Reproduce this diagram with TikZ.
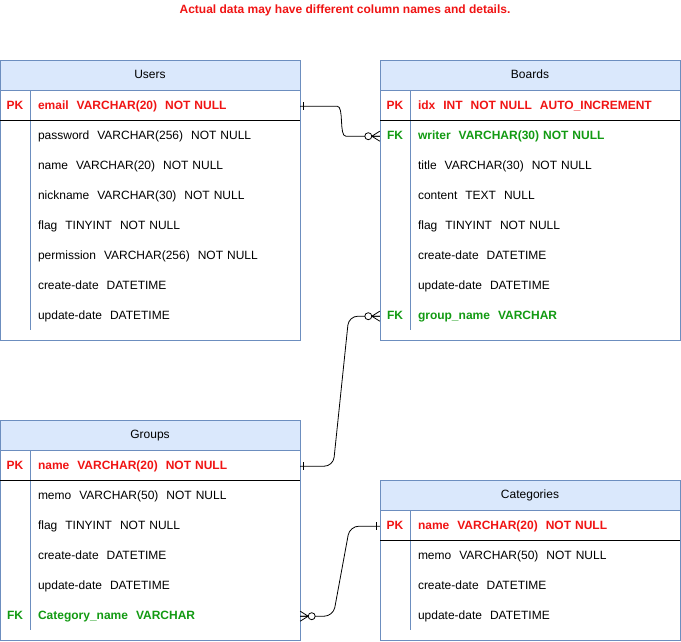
\documentclass[tikz,border=0pt]{standalone}
\usepackage{fontspec}
\setmainfont{Liberation Sans}

\definecolor{headblue}{HTML}{DAE8FC}
\definecolor{edgeblue}{HTML}{6C8EBF}
\definecolor{pkred}{HTML}{F01414}
\definecolor{fkgreen}{HTML}{129A12}

\tikzset{
  tbl/.style={draw=edgeblue, line width=0.8pt},
  head/.style={font=\fontsize{12}{14}\selectfont, text height=9pt, text depth=3pt},
  row/.style={text width=254pt, inner xsep=8pt, inner ysep=0pt, minimum height=30pt,
    text height=9pt, text depth=3pt, yshift=-1.2pt, font=\fontsize{12}{14}\selectfont},
  pkrow/.style={row, text=pkred, font=\fontsize{12}{14}\selectfont\bfseries},
  fkrow/.style={row, text=fkgreen, font=\fontsize{12}{14}\selectfont\bfseries},
  keytag/.style={minimum width=30pt, minimum height=30pt, inner sep=0pt,
    text height=9pt, text depth=3pt, yshift=-1.2pt, font=\fontsize{12}{14}\selectfont\bfseries},
  rel/.style={line width=0.8pt, rounded corners=9pt},
  one/.pic={\draw[line width=0.8pt] (0,-4) -- (0,4);},
  zeromany/.pic={
    \draw[line width=0.8pt] (-8,0) -- (0,-5) (-8,0) -- (0,5) (-8,0) -- (0,0);
    \draw[line width=0.8pt, fill=white] (-11.5,0) circle (3.5pt);}
}

\begin{document}
\begin{tikzpicture}[x=1pt, y=-1pt]
\useasboundingbox (0,0) rectangle (681,641);

\node[font=\fontsize{12}{14}\selectfont\bfseries, text=pkred] (note) at (345,10)
  {Actual data may have different column names and details.};

% Users
\draw[tbl, fill=headblue] (0,60) rectangle (300,90);
\draw[tbl] (0,90) rectangle (300,340);
\draw[edgeblue, line width=0.8pt] (30,90) -- (30,330);
\draw[line width=0.8pt] (0,120) -- (300,120);
\node[head] (users) at (150,75) {Users};
\node[keytag, text=pkred] (users-pk) at (15,105) {PK};
\node[pkrow] (users-email) at (165,105) {email~~VARCHAR(20)~~NOT NULL};
\node[row] (users-pw) at (165,135) {password~~VARCHAR(256)~~NOT NULL};
\node[row] (users-name) at (165,165) {name~~VARCHAR(20)~~NOT NULL};
\node[row] (users-nick) at (165,195) {nickname~~VARCHAR(30)~~NOT NULL};
\node[row] (users-flag) at (165,225) {flag~~TINYINT~~NOT NULL};
\node[row] (users-perm) at (165,255) {permission~~VARCHAR(256)~~NOT NULL};
\node[row] (users-cdate) at (165,285) {create-date~~DATETIME};
\node[row] (users-udate) at (165,315) {update-date~~DATETIME};

% Boards
\draw[tbl, fill=headblue] (380,60) rectangle (680,90);
\draw[tbl] (380,90) rectangle (680,340);
\draw[edgeblue, line width=0.8pt] (410,90) -- (410,330);
\draw[line width=0.8pt] (380,120) -- (680,120);
\node[head] (boards) at (530,75) {Boards};
\node[keytag, text=pkred] (boards-pk) at (395,105) {PK};
\node[keytag, text=fkgreen] (boards-fk1) at (395,135) {FK};
\node[keytag, text=fkgreen] (boards-fk2) at (395,315) {FK};
\node[pkrow] (boards-idx) at (545,105) {idx~~INT~~NOT NULL~~AUTO\_INCREMENT};
\node[fkrow] (boards-writer) at (545,135) {writer~~VARCHAR(30) NOT NULL};
\node[row] (boards-title) at (545,165) {title~~VARCHAR(30)~~NOT NULL};
\node[row] (boards-content) at (545,195) {content~~TEXT~~NULL};
\node[row] (boards-flag) at (545,225) {flag~~TINYINT~~NOT NULL};
\node[row] (boards-cdate) at (545,255) {create-date~~DATETIME};
\node[row] (boards-udate) at (545,285) {update-date~~DATETIME};
\node[fkrow] (boards-group) at (545,315) {group\_name~~VARCHAR};

% Groups
\draw[tbl, fill=headblue] (0,420) rectangle (300,450);
\draw[tbl] (0,450) rectangle (300,640);
\draw[edgeblue, line width=0.8pt] (30,450) -- (30,630);
\draw[line width=0.8pt] (0,480) -- (300,480);
\node[head] (groups) at (150,435) {Groups};
\node[keytag, text=pkred] (groups-pk) at (15,465) {PK};
\node[keytag, text=fkgreen] (groups-fk) at (15,615) {FK};
\node[pkrow] (groups-name) at (165,465) {name~~VARCHAR(20)~~NOT NULL};
\node[row] (groups-memo) at (165,495) {memo~~VARCHAR(50)~~NOT NULL};
\node[row] (groups-flag) at (165,525) {flag~~TINYINT~~NOT NULL};
\node[row] (groups-cdate) at (165,555) {create-date~~DATETIME};
\node[row] (groups-udate) at (165,585) {update-date~~DATETIME};
\node[fkrow] (groups-cat) at (165,615) {Category\_name~~VARCHAR};

% Categories
\draw[tbl, fill=headblue] (380,480) rectangle (680,510);
\draw[tbl] (380,510) rectangle (680,640);
\draw[edgeblue, line width=0.8pt] (410,510) -- (410,630);
\draw[line width=0.8pt] (380,540) -- (680,540);
\node[head] (cats) at (530,495) {Categories};
\node[keytag, text=pkred] (cats-pk) at (395,525) {PK};
\node[pkrow] (cats-name) at (545,525) {name~~VARCHAR(20)~~NOT NULL};
\node[row] (cats-memo) at (545,555) {memo~~VARCHAR(50)~~NOT NULL};
\node[row] (cats-cdate) at (545,585) {create-date~~DATETIME};
\node[row] (cats-udate) at (545,615) {update-date~~DATETIME};

% relations
\draw[rel] (users-email.east) -- ++(28,0)
  .. controls +(16,0) and +(-16,0) .. ([xshift=-25pt]boards-fk1.west)
  -- (boards-fk1.west);
\draw[rel] (groups-name.east) -- ([xshift=33pt]groups-name.east)
  -- ([xshift=-31pt]boards-fk2.west) -- (boards-fk2.west);
\draw[rel] (groups-cat.east) -- ([xshift=33pt]groups-cat.east)
  -- ([xshift=-30pt]cats-pk.west) -- (cats-pk.west);

\path ([xshift=3pt]users-email.east) pic {one};
\path (boards-fk1.west) pic {zeromany};
\path (boards-fk2.west) pic {zeromany};
\path ([xshift=3pt]groups-name.east) pic {one};
\path (groups-cat.east) pic[xscale=-1] {zeromany};
\path ([xshift=-3pt]cats-pk.west) pic {one};
\end{tikzpicture}
\end{document}
